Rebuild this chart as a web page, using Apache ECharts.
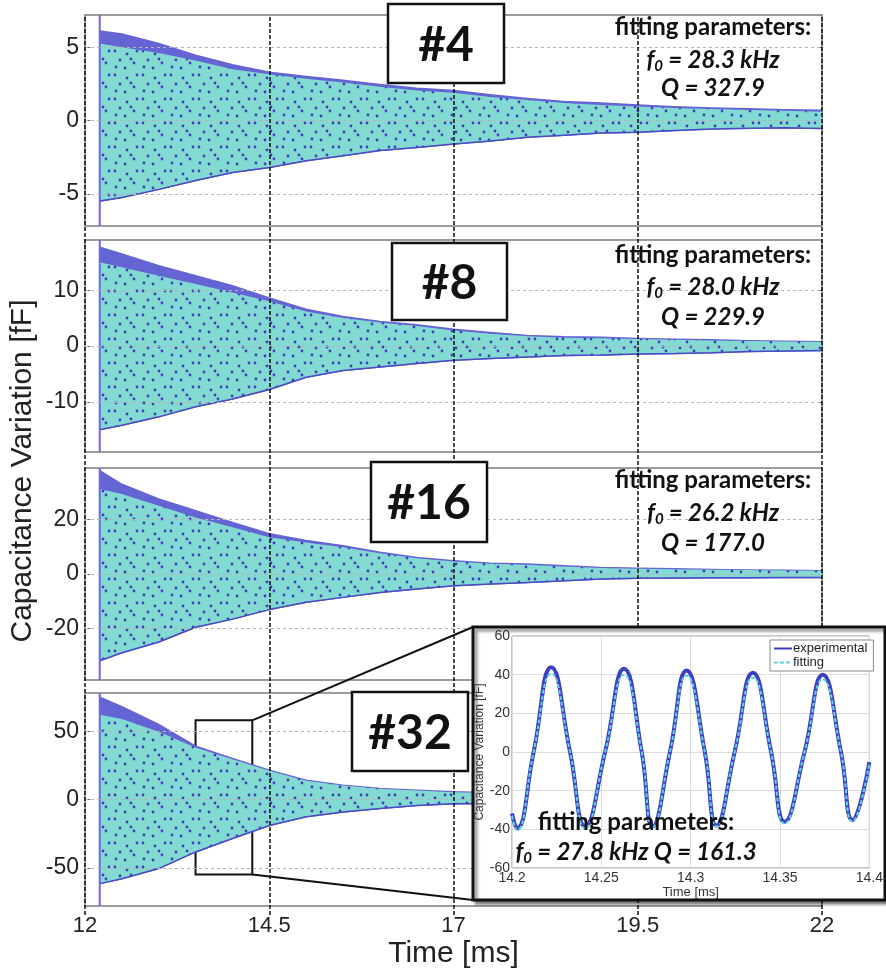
<!DOCTYPE html>
<html>
<head>
<meta charset="utf-8">
<script src="https://cdn.jsdelivr.net/npm/echarts@6/dist/echarts.min.js"></script>
<style>
  html, body { margin: 0; padding: 0; background: #fff; }
  #chart { width: 886px; height: 973px; }
</style>
</head>
<body>
<div id="chart"></div>
<script>
// ---- ring-down envelopes (time in ms, capacitance variation in fF) ----
const timeMs = [12.2, 12.5, 13, 13.5, 14, 14.5, 15, 15.5, 16, 16.5, 17, 17.5, 18, 18.5, 19, 19.5, 20, 20.5, 21, 21.5, 22];
const timeMs32 = [12.2, 12.5, 13, 13.5, 14, 14.5, 15, 15.5, 16, 16.5, 17, 17.5];

// device #4
const exp4Upper = [6.1, 5.9, 5.25, 4.45, 3.8, 3.3, 3.0, 2.75, 2.45, 2.2, 2.05, 1.75, 1.5, 1.3, 1.2, 1.05, 0.93, 0.86, 0.8, 0.74, 0.7];
const fit4Upper = [5.25, 5.0, 4.6, 4.1, 3.5, 3.15, 2.85, 2.6, 2.3, 2.05, 1.9, 1.6, 1.4, 1.2, 1.05, 0.95, 0.85, 0.78, 0.72, 0.66, 0.6];
const env4Lower = [-5.5, -5.25, -4.7, -4.1, -3.55, -3.2, -2.75, -2.4, -2.05, -1.85, -1.6, -1.4, -1.15, -1.0, -0.85, -0.8, -0.68, -0.58, -0.53, -0.5, -0.55];

// device #8
const exp8Upper = [17.7, 16.5, 14.4, 12.6, 10.8, 8.6, 6.6, 5.3, 4.4, 3.8, 3.0, 2.4, 1.9, 1.65, 1.55, 1.35, 1.2, 1.1, 0.95, 0.85, 0.75];
const fit8Upper = [15.0, 14.1, 12.6, 11.1, 9.6, 8.0, 6.2, 5.0, 4.2, 3.6, 2.8, 2.2, 1.75, 1.5, 1.4, 1.25, 1.1, 1.0, 0.9, 0.8, 0.7];
const env8Lower = [-15.0, -14.2, -12.7, -10.9, -9.5, -7.8, -5.6, -4.4, -3.75, -3.15, -2.55, -2.25, -1.95, -1.7, -1.6, -1.45, -1.35, -1.2, -1.0, -0.9, -0.8];

// device #16
const exp16Upper = [38, 33, 27.6, 23.3, 19.0, 14.8, 12.3, 10.4, 8.0, 6.1, 4.9, 4.0, 3.7, 3.05, 2.4, 2.1, 1.9, 1.7, 1.5, 1.35, 1.2];
const fit16Upper = [31.3, 29.4, 25.1, 20.8, 17.2, 13.5, 11.6, 9.8, 7.6, 5.8, 4.6, 3.8, 3.4, 2.8, 2.2, 1.95, 1.75, 1.6, 1.45, 1.3, 1.15];
const env16Lower = [-31.9, -29.0, -25.0, -19.6, -16.6, -13.1, -10.4, -8.6, -6.8, -5.5, -4.3, -3.7, -3.1, -2.5, -1.8, -1.6, -1.5, -1.4, -1.35, -1.3, -1.25];

// device #32
const exp32Upper = [75, 68, 55, 39, 30, 21.5, 14.1, 10.5, 8.1, 6.8, 5.6, 5.0];
const fit32Upper = [62, 59, 49.6, 38, 29.5, 21, 13.8, 10.2, 7.9, 6.6, 5.4, 4.8];
const env32Lower = [-61.6, -58, -50.6, -38.4, -28.6, -19, -12.7, -9.1, -6.6, -4.4, -3.2, -3.0];

// excitation pulse time (ms)
const pulseTime = 12.2;

// panel axes
const panelLabels = ['#4', '#8', '#16', '#32'];
const yLimits = [7.2, 19, 39, 78];
const yTicks = [[-5, 0, 5], [-10, 0, 10], [-20, 0, 20], [-50, 0, 50]];
const xTicks = [12, 14.5, 17, 19.5, 22];
const markerTimes = [12, 14.5, 17, 19.5, 22];

// fitted parameters per panel
const f0Values = ['28.3', '28.0', '26.2'];
const qValues = ['327.9', '229.9', '177.0'];

// magnified window inside panel #32
const zoomTime = [13.5, 14.27];
const zoomCap = [-55, 58];

// magnified trace 14.2 - 14.4 ms (extrema and zero crossings)
const insetTime = [14.2, 14.2028, 14.2121, 14.2219, 14.2325, 14.2409, 14.2521, 14.2627, 14.2726, 14.2787, 14.2884, 14.2977, 14.3079, 14.3144, 14.3246, 14.3348, 14.345, 14.3525, 14.3637, 14.3739, 14.3841, 14.3906, 14.4];
const insetExp = [-31.8, -39.5, 0, 43.9, 0, -38.5, 0, 43, 0, -38.5, 0, 42.2, 0, -38, 0, 41, 0, -36.1, 0, 39.9, 0, -35.2, -5.2];
const insetFit = [-33, -40.5, 0, 40.5, 0, -39.5, 0, 40, 0, -39, 0, 39.5, 0, -38.5, 0, 38.5, 0, -37, 0, 37.5, 0, -36, -6];
const insetF0 = '27.8';
const insetQ = '161.3';

// ---- styling ----
const BLUE = '#6464d4';
const BLUE_EDGE = '#4a4ac4';
const PULSE = '#6a6ad8';
const CYAN = '#82dad2';
const FONT = 'Liberation Sans';
const BOLD_FONT = 'Lato';

// speckled fill for the fitted band (the measured trace showing through)
function speckle() {
  const c = document.createElement('canvas');
  c.width = 28; c.height = 24;
  const g = c.getContext('2d');
  g.fillStyle = CYAN;
  g.fillRect(0, 0, c.width, c.height);
  g.fillStyle = '#3f3fbc';
  [[3, 3], [15, 6], [8, 12], [22, 15], [13, 20], [25, 3], [4, 19], [19, 11]].forEach(([px, py]) => {
    g.beginPath(); g.arc(px, py, 1.4, 0, Math.PI * 2); g.fill();
  });
  return c;
}
const bandPattern = { image: speckle(), repeat: 'repeat' };

const panels = [
  { t: timeMs, up: exp4Upper, fit: fit4Upper, low: env4Lower },
  { t: timeMs, up: exp8Upper, fit: fit8Upper, low: env8Lower },
  { t: timeMs, up: exp16Upper, fit: fit16Upper, low: env16Lower },
  { t: timeMs32, up: exp32Upper, fit: fit32Upper, low: env32Lower }
];

// panel rectangles (px)
const panelBoxes = [
  { top: 15, height: 211 },
  { top: 240, height: 212 },
  { top: 468, height: 212 },
  { top: 693, height: 213 }
];
const PLOT_LEFT = 85, PLOT_WIDTH = 737;

// band between a lower and an upper envelope, drawn as one polygon
function bandSeries(i, t, low, up, fill, stroke, z) {
  return {
    type: 'custom', xAxisIndex: i, yAxisIndex: 2 * i, silent: true, z,
    data: t.map((x, k) => [x, low[k], up[k]]),
    encode: { x: 0, y: [1, 2] },
    renderItem(params, api) {
      if (params.dataIndex !== 0) return null;
      const pts = [];
      for (let k = 0; k < t.length; k++) pts.push(api.coord([t[k], up[k]]));
      for (let k = t.length - 1; k >= 0; k--) pts.push(api.coord([t[k], low[k]]));
      return {
        type: 'polygon', shape: { points: pts },
        style: { fill, stroke: stroke || null, lineWidth: stroke ? 1.5 : 0 }
      };
    }
  };
}

const grid = [], xAxis = [], yAxis = [], series = [];

panelBoxes.forEach((b, i) => {
  grid.push({ left: PLOT_LEFT, width: PLOT_WIDTH, top: b.top, height: b.height, show: true,
    borderColor: '#7c7c7c', borderWidth: 1.5, backgroundColor: '#fff', z: 0 });
  const last = i === 3;
  xAxis.push({
    type: 'value', gridIndex: i, min: 12, max: 22,
    axisLine: { show: false }, axisTick: { show: false }, splitLine: { show: false },
    axisLabel: last ? { show: true, customValues: xTicks, fontFamily: FONT, fontSize: 22, color: '#222', margin: 9 } : { show: false },
    name: last ? 'Time [ms]' : '', nameLocation: 'middle', nameGap: 33,
    nameTextStyle: { fontFamily: FONT, fontSize: 30, color: '#222' }
  });
  const yl = yLimits[i];
  yAxis.push({
    type: 'value', gridIndex: i, min: -yl, max: yl, position: 'left',
    axisLine: { show: false }, splitLine: { show: false },
    axisTick: { show: true, inside: true, length: 5, customValues: yTicks[i], lineStyle: { color: '#666' } },
    axisLabel: { customValues: yTicks[i], fontFamily: FONT, fontSize: 23, color: '#222', margin: 6 }
  });
  yAxis.push({
    type: 'value', gridIndex: i, min: -yl, max: yl, position: 'right',
    axisLine: { show: false }, splitLine: { show: false }, axisLabel: { show: false },
    axisTick: { show: true, inside: true, length: 5, customValues: yTicks[i], lineStyle: { color: '#666' } }
  });

  const p = panels[i];
  const xy = arr => p.t.map((x, k) => [x, arr[k]]);
  const common = { type: 'line', xAxisIndex: i, yAxisIndex: 2 * i, symbol: 'none', silent: true, animation: false };

  // dotted horizontal grid lines
  series.push(Object.assign({}, common, {
    data: [], z: 1,
    markLine: {
      silent: true, symbol: 'none', label: { show: false },
      lineStyle: { color: '#b5b5b5', type: [3, 3], width: 1 },
      data: yTicks[i].map(v => ({ yAxis: v }))
    }
  }));
  // measured envelope (blue) and fitted envelope (cyan) on top
  series.push(bandSeries(i, p.t, p.low, p.up, BLUE, BLUE, 2));
  series.push(bandSeries(i, p.t, p.low, p.fit, bandPattern, null, 3));
  // lower edge of the measured trace
  series.push(Object.assign({}, common, { z: 3, data: xy(p.low), lineStyle: { color: BLUE_EDGE, width: 1.5 } }));
  // excitation pulse
  series.push(Object.assign({}, common, {
    z: 3, data: [[pulseTime, yl], [pulseTime, -yl]], lineStyle: { color: PULSE, width: 2 },
    markArea: i === 3 ? {
      silent: true,
      itemStyle: { color: 'rgba(0,0,0,0)', borderColor: '#111', borderWidth: 2 },
      data: [[{ xAxis: zoomTime[0], yAxis: zoomCap[1] }, { xAxis: zoomTime[1], yAxis: zoomCap[0] }]]
    } : undefined
  }));
});

// overlay carrying the vertical time markers across all panels
grid.push({ left: PLOT_LEFT, width: PLOT_WIDTH, top: 15, height: 900, show: false });
xAxis.push({ type: 'value', gridIndex: 4, min: 12, max: 22, show: false });
yAxis.push({ type: 'value', gridIndex: 4, min: 0, max: 1, show: false });
series.push({
  type: 'line', xAxisIndex: 4, yAxisIndex: 8, data: [], silent: true, z: 4,
  markLine: {
    silent: true, symbol: 'none', label: { show: false },
    lineStyle: { color: '#111', width: 1.5, type: [4, 2] },
    data: markerTimes.map(v => ({ xAxis: v }))
  }
});

// magnified view
const INSET_BOX = { x: 473, y: 627, w: 412, h: 273 };
grid.push({ left: 512, top: 636, width: 358, height: 232, show: true, borderColor: '#8a8a8a', borderWidth: 1, z: 25 });
xAxis.push({
  type: 'value', gridIndex: 5, min: 14.2, max: 14.4, interval: 0.05, z: 25,
  axisLine: { show: false }, axisTick: { show: false },
  splitLine: { show: true, lineStyle: { color: '#dcdcdc', width: 1 } },
  axisLabel: { fontFamily: FONT, fontSize: 14, color: '#333', margin: 3 },
  name: 'Time [ms]', nameLocation: 'middle', nameGap: 17,
  nameTextStyle: { fontFamily: FONT, fontSize: 13, color: '#333' }
});
yAxis.push({
  type: 'value', gridIndex: 5, min: -60, max: 60, interval: 20, z: 25,
  axisLine: { show: false }, axisTick: { show: false },
  splitLine: { show: true, lineStyle: { color: '#dcdcdc', width: 1 } },
  axisLabel: { fontFamily: FONT, fontSize: 14, color: '#333', margin: 2 },
  name: 'Capacitance Variation [fF]', nameLocation: 'middle', nameGap: 24,
  nameTextStyle: { fontFamily: FONT, fontSize: 12, color: '#333' }
});
const insetXY = arr => insetTime.map((x, k) => [x, arr[k]]);
series.push(
  { name: 'experimental', type: 'line', xAxisIndex: 5, yAxisIndex: 9, symbol: 'none', smooth: true, z: 30,
    data: insetXY(insetExp), lineStyle: { color: '#3d3dc6', width: 4 }, itemStyle: { color: '#3d3dc6' } },
  { name: 'fitting', type: 'line', xAxisIndex: 5, yAxisIndex: 9, symbol: 'none', smooth: true, z: 31,
    data: insetXY(insetFit), lineStyle: { color: '#5fd6d6', width: 2, type: [4, 2] }, itemStyle: { color: '#5fd6d6' } }
);

const option = {
  animation: false,
  backgroundColor: '#fff',
  grid, xAxis, yAxis, series,
  legend: {
    data: ['experimental', 'fitting'], orient: 'vertical', left: 770, top: 640, z: 40,
    itemWidth: 18, itemHeight: 8, itemGap: 1, padding: [2, 6, 2, 3],
    itemStyle: { opacity: 0 },
    backgroundColor: '#fff', borderColor: '#8a8a8a', borderWidth: 1,
    textStyle: { fontFamily: FONT, fontSize: 13, color: '#222', padding: [0, 0, 0, -4] }
  }
};

const chart = echarts.init(document.getElementById('chart'), null, { renderer: 'canvas' });
chart.setOption(option);

// annotation boxes, fit parameter texts and the magnifier connectors
const labelBoxes = [
  { x: 388, y: 4, w: 116, h: 79 },
  { x: 392, y: 243, w: 115, h: 77 },
  { x: 371, y: 462, w: 116, h: 80 },
  { x: 352, y: 692, w: 116, h: 79 }
];
const paramRows = [[27, 60, 88], [255, 287, 317], [480, 513, 543]];
const PARAM_X = 713;

const richF0 = {
  i: { fontFamily: BOLD_FONT, fontWeight: 'bold', fontStyle: 'italic', fontSize: 24, lineHeight: 28, fill: '#111', color: '#111' },
  s: { fontFamily: BOLD_FONT, fontWeight: 'bold', fontStyle: 'italic', fontSize: 15, lineHeight: 15, verticalAlign: 'bottom', fill: '#111', color: '#111' }
};

function centeredText(x, y, text, font, z, extra) {
  return {
    type: 'text', x, y, z, silent: true,
    style: Object.assign({ text, font, fill: '#111', textAlign: 'center', textVerticalAlign: 'middle' }, extra || {})
  };
}

const elements = [];
labelBoxes.forEach((b, i) => {
  elements.push({ type: 'rect', z: 10, silent: true, shape: { x: b.x, y: b.y, width: b.w, height: b.h },
    style: { fill: '#fff', stroke: '#111', lineWidth: 2.5 } });
  elements.push(centeredText(b.x + b.w / 2, b.y + b.h / 2 + 2, panelLabels[i], 'bold 48px ' + BOLD_FONT, 11));
});
paramRows.forEach((rows, i) => {
  elements.push(centeredText(PARAM_X, rows[0], 'fitting parameters:', 'bold 24px ' + BOLD_FONT, 11));
  elements.push(centeredText(PARAM_X, rows[1], '{i|f}{s|0}{i| = ' + f0Values[i] + ' kHz}', 'bold italic 24px ' + BOLD_FONT, 11, { rich: richF0 }));
  elements.push(centeredText(PARAM_X, rows[2], 'Q = ' + qValues[i], 'bold italic 24px ' + BOLD_FONT, 11));
});

// shared y-axis title
elements.push({
  type: 'text', x: 23, y: 471, rotation: Math.PI / 2, z: 11, silent: true,
  style: { text: 'Capacitance Variation [fF]', font: '30px ' + FONT, fill: '#222', textAlign: 'center', textVerticalAlign: 'middle' }
});

// magnifier connectors from the zoom window to the inset frame
const cornerTop = chart.convertToPixel({ gridIndex: 3 }, [zoomTime[1], zoomCap[1]]);
const cornerBottom = chart.convertToPixel({ gridIndex: 3 }, [zoomTime[1], zoomCap[0]]);
elements.push({ type: 'line', z: 15, silent: true,
  shape: { x1: cornerTop[0], y1: cornerTop[1], x2: INSET_BOX.x, y2: INSET_BOX.y },
  style: { stroke: '#111', lineWidth: 2 } });
elements.push({ type: 'line', z: 15, silent: true,
  shape: { x1: cornerBottom[0], y1: cornerBottom[1], x2: INSET_BOX.x, y2: INSET_BOX.y + INSET_BOX.h },
  style: { stroke: '#111', lineWidth: 2 } });

// inset frame
elements.push({ type: 'rect', z: 20, silent: true,
  shape: { x: INSET_BOX.x, y: INSET_BOX.y, width: INSET_BOX.w, height: INSET_BOX.h },
  style: { fill: '#fff', stroke: '#111', lineWidth: 3, shadowBlur: 3, shadowOffsetX: 3, shadowOffsetY: 3, shadowColor: 'rgba(0,0,0,0.45)' } });

// inset fit parameters
elements.push(centeredText(636, 822, 'fitting parameters:', 'bold 24px ' + BOLD_FONT, 45));
elements.push(centeredText(636, 852, '{i|f}{s|0}{i| = ' + insetF0 + ' kHz Q = ' + insetQ + '}', 'bold italic 24px ' + BOLD_FONT, 45, { rich: richF0 }));

chart.setOption({ graphic: { elements } });
</script>
</body>
</html>
